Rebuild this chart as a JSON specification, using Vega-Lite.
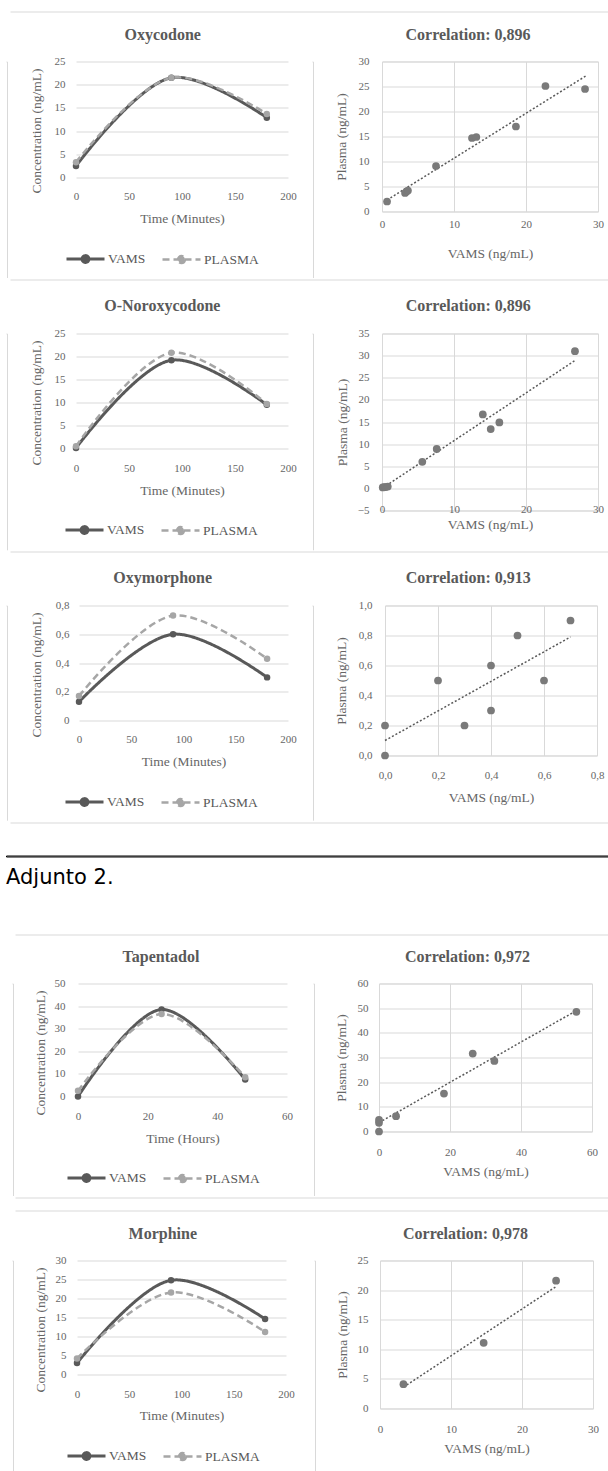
{
  "$schema": "https://vega.github.io/schema/vega-lite/v6.json",
  "background": "white",
  "padding": {"left": 5, "top": 10.5, "right": 0, "bottom": 0},
  "spacing": 0,
  "resolve": {"scale": {"color": "independent", "strokeDash": "independent", "strokeWidth": "independent"}, "legend": {"color": "independent"}},
  "config": {
    "font": "Liberation Serif",
    "view": {"stroke": null},
    "axis": {
      "ticks": false, "tickSize": 0, "domain": false, "labelFlush": false, "labelOverlap": false,
      "gridColor": "#d9d9d9", "gridWidth": 1,
      "labelFont": "Liberation Serif", "labelFontSize": 11, "labelColor": "#666666",
      "titleFont": "Liberation Serif", "titleFontSize": 13.5, "titleFontWeight": "normal", "titleColor": "#666666"
    },
    "title": {"font": "Liberation Serif", "fontSize": 16, "fontWeight": "bold", "color": "#595959", "offset": 13},
    "concat": {"spacing": 0}
  },
  "datasets": {
    "oxy_line": [
      {"t": 0, "v": 2.5, "s": "VAMS"}, {"t": 90, "v": 21.5, "s": "VAMS"}, {"t": 180, "v": 12.9, "s": "VAMS"},
      {"t": 0, "v": 3.3, "s": "PLASMA"}, {"t": 90, "v": 21.5, "s": "PLASMA"}, {"t": 180, "v": 13.7, "s": "PLASMA"}
    ],
    "nor_line": [
      {"t": 0, "v": 0.1, "s": "VAMS"}, {"t": 90, "v": 19.2, "s": "VAMS"}, {"t": 180, "v": 9.5, "s": "VAMS"},
      {"t": 0, "v": 0.5, "s": "PLASMA"}, {"t": 90, "v": 20.8, "s": "PLASMA"}, {"t": 180, "v": 9.7, "s": "PLASMA"}
    ],
    "oxm_line": [
      {"t": 0, "v": 0.13, "s": "VAMS"}, {"t": 90, "v": 0.6, "s": "VAMS"}, {"t": 180, "v": 0.3, "s": "VAMS"},
      {"t": 0, "v": 0.17, "s": "PLASMA"}, {"t": 90, "v": 0.73, "s": "PLASMA"}, {"t": 180, "v": 0.43, "s": "PLASMA"}
    ],
    "tap_line": [
      {"t": 0, "v": 0, "s": "VAMS"}, {"t": 24, "v": 38.5, "s": "VAMS"}, {"t": 48, "v": 7.5, "s": "VAMS"},
      {"t": 0, "v": 2.5, "s": "PLASMA"}, {"t": 24, "v": 36.5, "s": "PLASMA"}, {"t": 48, "v": 8.5, "s": "PLASMA"}
    ],
    "mor_line": [
      {"t": 0, "v": 3.0, "s": "VAMS"}, {"t": 90, "v": 24.8, "s": "VAMS"}, {"t": 180, "v": 14.6, "s": "VAMS"},
      {"t": 0, "v": 4.2, "s": "PLASMA"}, {"t": 90, "v": 21.6, "s": "PLASMA"}, {"t": 180, "v": 11.2, "s": "PLASMA"}
    ],
    "oxy_pts": [
      {"x": 0.7, "y": 2.0}, {"x": 3.2, "y": 3.7}, {"x": 3.4, "y": 4.0}, {"x": 3.6, "y": 4.2}, {"x": 7.5, "y": 9.1},
      {"x": 12.5, "y": 14.7}, {"x": 13.1, "y": 14.9}, {"x": 18.6, "y": 17.0}, {"x": 22.7, "y": 25.1}, {"x": 28.2, "y": 24.5}
    ],
    "oxy_trend": [{"x": 0.7, "y": 2.3}, {"x": 28.3, "y": 27.1}],
    "nor_pts": [
      {"x": 0.1, "y": 0.2}, {"x": 0.3, "y": 0.3}, {"x": 0.5, "y": 0.3}, {"x": 0.8, "y": 0.4}, {"x": 5.6, "y": 6.0},
      {"x": 7.6, "y": 8.9}, {"x": 14.0, "y": 16.7}, {"x": 15.1, "y": 13.4}, {"x": 16.3, "y": 14.9}, {"x": 26.8, "y": 31.0}
    ],
    "nor_trend": [{"x": 0.1, "y": 0.1}, {"x": 26.8, "y": 28.9}],
    "oxm_pts": [
      {"x": 0, "y": 0.2}, {"x": 0, "y": 0}, {"x": 0.2, "y": 0.5}, {"x": 0.3, "y": 0.2}, {"x": 0.4, "y": 0.6},
      {"x": 0.4, "y": 0.3}, {"x": 0.5, "y": 0.8}, {"x": 0.6, "y": 0.5}, {"x": 0.7, "y": 0.9}
    ],
    "oxm_trend": [{"x": 0, "y": 0.1}, {"x": 0.7, "y": 0.79}],
    "tap_pts": [
      {"x": 0, "y": 0}, {"x": 0, "y": 3.5}, {"x": 0, "y": 4.7}, {"x": 4.8, "y": 6.2}, {"x": 18.3, "y": 15.4},
      {"x": 26.4, "y": 31.6}, {"x": 32.5, "y": 28.6}, {"x": 55.6, "y": 48.5}
    ],
    "tap_trend": [{"x": 0, "y": 3.6}, {"x": 55.6, "y": 49.0}],
    "mor_pts": [{"x": 3.3, "y": 4.1}, {"x": 14.6, "y": 11.1}, {"x": 24.8, "y": 21.6}],
    "mor_trend": [{"x": 3.3, "y": 3.6}, {"x": 24.8, "y": 20.6}]
  },
  "vconcat": [
    {"spacing": 0, "hconcat": [
      {"width": 2.5, "height": 1, "data": {"values": [{}]}, "mark": {"type": "point", "filled": true, "size": 0, "opacity": 0}, "encoding": {}},
      {"width": 600, "height": 1, "data": {"values": [{}]}, "mark": {"type": "point", "filled": true, "size": 0, "opacity": 0}, "encoding": {}, "view": {"stroke": "#d9d9d9", "strokeDash": [600, 5000]}}
    ]},
    {
      "spacing": 0,
      "resolve": {"scale": {"color": "independent", "strokeDash": "independent", "strokeWidth": "independent"}, "legend": {"color": "independent"}},
      "hconcat": [
        {"width": 1, "height": 216, "data": {"values": [{}]}, "mark": {"type": "point", "filled": true, "size": 0, "opacity": 0}, "encoding": {}, "view": {"stroke": "#d9d9d9", "strokeDash": [217, 5000]}},
        {"width": 19.25, "height": 1, "data": {"values": [{}]}, "mark": {"type": "point", "filled": true, "size": 0, "opacity": 0}, "encoding": {}},
        {
          "width": 212, "height": 116,
          "title": {"text": ["", "Oxycodone"], "lineHeight": 12.5, "dx": -19.3},
          "data": {"name": "oxy_line"},
          "encoding": {
            "x": {"field": "t", "type": "quantitative", "scale": {"domain": [0, 200], "nice": false},
                  "axis": {"values": [0, 50, 100, 150, 200], "grid": false, "title": "Time (Minutes)", "labelPadding": 12.5, "titleY": 41, "titleBaseline": "middle"}},
            "y": {"field": "v", "type": "quantitative", "scale": {"domain": [0, 25], "nice": false},
                  "axis": {"values": [0, 5, 10, 15, 20, 25], "title": "Concentration (ng/mL)", "titleX": -40, "titleY": 69, "titleBaseline": "middle", "labelPadding": 11}},
            "color": {"field": "s", "type": "nominal", "scale": {"domain": ["VAMS", "PLASMA"], "range": ["#595959", "#a6a6a6"]},
                      "legend": {"orient": "none", "legendX": -11, "legendY": 177, "direction": "horizontal", "title": null,
                                 "symbolType": "M-1,0L1,0M-0.18,0A0.18,0.18,0,1,1,0.18,0A0.18,0.18,0,1,1,-0.18,0Z", "symbolSize": 1444,
                                 "labelFont": "Liberation Serif", "labelFontSize": 13.5, "labelColor": "#595959", "labelOffset": 2, "columnPadding": 11, "padding": 0,
                                 "encode": {"symbols": {"update": {
                                   "fill": {"signal": "datum.value === 'VAMS' ? '#595959' : '#a6a6a6'"},
                                   "stroke": {"signal": "datum.value === 'VAMS' ? '#595959' : '#a6a6a6'"},
                                   "strokeDash": {"signal": "datum.value === 'VAMS' ? [1, 0] : [5, 3]"},
                                   "strokeWidth": {"value": 2.6}, "opacity": {"value": 1}}}}}}
          },
          "layer": [
            {"mark": {"type": "line", "interpolate": "catmull-rom"},
             "encoding": {"strokeDash": {"field": "s", "type": "nominal", "scale": {"domain": ["VAMS", "PLASMA"], "range": [[1, 0], [7, 4]]}, "legend": null},
                          "strokeWidth": {"field": "s", "type": "nominal", "scale": {"domain": ["VAMS", "PLASMA"], "range": [3, 2.5]}, "legend": null}}},
            {"mark": {"type": "circle", "size": 42, "opacity": 1}}
          ]
        },
        {"width": 13.75, "height": 1, "data": {"values": [{}]}, "mark": {"type": "point", "filled": true, "size": 0, "opacity": 0}, "encoding": {}},
        {"width": 1, "height": 216, "data": {"values": [{}]}, "mark": {"type": "point", "filled": true, "size": 0, "opacity": 0}, "encoding": {}, "view": {"stroke": "#d9d9d9", "strokeDash": [217, 5000]}},
        {"width": 19.45, "height": 1, "data": {"values": [{}]}, "mark": {"type": "point", "filled": true, "size": 0, "opacity": 0}, "encoding": {}},
        {
          "width": 216, "height": 150,
          "title": {"text": ["", "Correlation: 0,896"], "lineHeight": 12.5, "dx": -22},
          "view": {"stroke": "#d9d9d9"},
          "encoding": {
            "x": {"field": "x", "type": "quantitative", "scale": {"domain": [0, 30], "nice": false},
                  "axis": {"values": [0, 10, 20, 30], "title": "VAMS (ng/mL)", "labelPadding": 6.5, "titleY": 42, "titleBaseline": "middle"}},
            "y": {"field": "y", "type": "quantitative", "scale": {"domain": [0, 30], "nice": false},
                  "axis": {"values": [0, 5, 10, 15, 20, 25, 30], "title": "Plasma (ng/mL)", "titleX": -40.3, "titleBaseline": "middle", "labelPadding": 13}}
          },
          "layer": [
            {"data": {"name": "oxy_trend"}, "mark": {"type": "line", "color": "#595959", "strokeDash": [2, 2], "strokeWidth": 1.5}},
            {"data": {"name": "oxy_pts"}, "mark": {"type": "circle", "size": 60, "color": "#7a7a7a", "opacity": 1}}
          ]
        }
      ]
    },
    {"spacing": 0, "hconcat": [
      {"width": 2.5, "height": 1, "data": {"values": [{}]}, "mark": {"type": "point", "filled": true, "size": 0, "opacity": 0}, "encoding": {}},
      {"width": 600, "height": 1, "data": {"values": [{}]}, "mark": {"type": "point", "filled": true, "size": 0, "opacity": 0}, "encoding": {}, "view": {"stroke": "#d9d9d9", "strokeDash": [600, 5000]}}
    ]},
    {
      "spacing": 0,
      "resolve": {"scale": {"color": "independent", "strokeDash": "independent", "strokeWidth": "independent"}, "legend": {"color": "independent"}},
      "hconcat": [
        {"width": 1, "height": 216.3, "data": {"values": [{}]}, "mark": {"type": "point", "filled": true, "size": 0, "opacity": 0}, "encoding": {}, "view": {"stroke": "#d9d9d9", "strokeDash": [217.3, 5000]}},
        {"width": 19.25, "height": 1, "data": {"values": [{}]}, "mark": {"type": "point", "filled": true, "size": 0, "opacity": 0}, "encoding": {}},
        {
          "width": 212, "height": 115,
          "title": {"text": ["", "O-Noroxycodone"], "lineHeight": 16.2, "dx": -19.7},
          "data": {"name": "nor_line"},
          "encoding": {
            "x": {"field": "t", "type": "quantitative", "scale": {"domain": [0, 200], "nice": false},
                  "axis": {"values": [0, 50, 100, 150, 200], "grid": false, "title": "Time (Minutes)", "labelPadding": 14, "titleY": 42, "titleBaseline": "middle"}},
            "y": {"field": "v", "type": "quantitative", "scale": {"domain": [0, 25], "nice": false},
                  "axis": {"values": [0, 5, 10, 15, 20, 25], "title": "Concentration (ng/mL)", "titleX": -40, "titleY": 69, "titleBaseline": "middle", "labelPadding": 11}},
            "color": {"field": "s", "type": "nominal", "scale": {"domain": ["VAMS", "PLASMA"], "range": ["#595959", "#a6a6a6"]},
                      "legend": {"orient": "none", "legendX": -12, "legendY": 176, "direction": "horizontal", "title": null,
                                 "symbolType": "M-1,0L1,0M-0.18,0A0.18,0.18,0,1,1,0.18,0A0.18,0.18,0,1,1,-0.18,0Z", "symbolSize": 1444,
                                 "labelFont": "Liberation Serif", "labelFontSize": 13.5, "labelColor": "#595959", "labelOffset": 2, "columnPadding": 11, "padding": 0,
                                 "encode": {"symbols": {"update": {
                                   "fill": {"signal": "datum.value === 'VAMS' ? '#595959' : '#a6a6a6'"},
                                   "stroke": {"signal": "datum.value === 'VAMS' ? '#595959' : '#a6a6a6'"},
                                   "strokeDash": {"signal": "datum.value === 'VAMS' ? [1, 0] : [5, 3]"},
                                   "strokeWidth": {"value": 2.6}, "opacity": {"value": 1}}}}}}
          },
          "layer": [
            {"mark": {"type": "line", "interpolate": "catmull-rom"},
             "encoding": {"strokeDash": {"field": "s", "type": "nominal", "scale": {"domain": ["VAMS", "PLASMA"], "range": [[1, 0], [7, 4]]}, "legend": null},
                          "strokeWidth": {"field": "s", "type": "nominal", "scale": {"domain": ["VAMS", "PLASMA"], "range": [3, 2.5]}, "legend": null}}},
            {"mark": {"type": "circle", "size": 42, "opacity": 1}}
          ]
        },
        {"width": 13.75, "height": 1, "data": {"values": [{}]}, "mark": {"type": "point", "filled": true, "size": 0, "opacity": 0}, "encoding": {}},
        {"width": 1, "height": 216.3, "data": {"values": [{}]}, "mark": {"type": "point", "filled": true, "size": 0, "opacity": 0}, "encoding": {}, "view": {"stroke": "#d9d9d9", "strokeDash": [217.3, 5000]}},
        {"width": 19.45, "height": 1, "data": {"values": [{}]}, "mark": {"type": "point", "filled": true, "size": 0, "opacity": 0}, "encoding": {}},
        {
          "width": 216, "height": 177,
          "title": {"text": ["", "Correlation: 0,896"], "lineHeight": 16.2, "dx": -21.8},
          "view": {"stroke": "#d9d9d9"},
          "encoding": {
            "x": {"field": "x", "type": "quantitative", "scale": {"domain": [0, 30], "nice": false},
                  "axis": {"values": [0, 10, 20, 30], "title": "VAMS (ng/mL)", "labelPadding": -6.6, "titleY": 14.2, "titleBaseline": "middle"}},
            "y": {"field": "y", "type": "quantitative", "scale": {"domain": [-5, 35], "nice": false},
                  "axis": {"values": [-5, 0, 5, 10, 15, 20, 25, 30, 35], "title": "Plasma (ng/mL)", "titleX": -40, "titleBaseline": "middle", "labelPadding": 13}}
          },
          "layer": [
            {"data": {"name": "nor_trend"}, "mark": {"type": "line", "color": "#595959", "strokeDash": [2, 2], "strokeWidth": 1.5}},
            {"data": {"name": "nor_pts"}, "mark": {"type": "circle", "size": 60, "color": "#7a7a7a", "opacity": 1}}
          ]
        }
      ]
    },
    {"spacing": 0, "hconcat": [
      {"width": 2.5, "height": 1, "data": {"values": [{}]}, "mark": {"type": "point", "filled": true, "size": 0, "opacity": 0}, "encoding": {}},
      {"width": 600, "height": 1, "data": {"values": [{}]}, "mark": {"type": "point", "filled": true, "size": 0, "opacity": 0}, "encoding": {}, "view": {"stroke": "#d9d9d9", "strokeDash": [600, 5000]}}
    ]},
    {
      "spacing": 0,
      "resolve": {"scale": {"color": "independent", "strokeDash": "independent", "strokeWidth": "independent"}, "legend": {"color": "independent"}},
      "hconcat": [
        {"width": 1, "height": 214.7, "data": {"values": [{}]}, "mark": {"type": "point", "filled": true, "size": 0, "opacity": 0}, "encoding": {}, "view": {"stroke": "#d9d9d9", "strokeDash": [215.7, 5000]}},
        {"width": 19.25, "height": 1, "data": {"values": [{}]}, "mark": {"type": "point", "filled": true, "size": 0, "opacity": 0}, "encoding": {}},
        {
          "width": 209, "height": 115,
          "title": {"text": ["", "Oxymorphone"], "lineHeight": 15.8, "dx": -20.8},
          "data": {"name": "oxm_line"},
          "encoding": {
            "x": {"field": "t", "type": "quantitative", "scale": {"domain": [0, 200], "nice": false},
                  "axis": {"values": [0, 50, 100, 150, 200], "grid": false, "title": "Time (Minutes)", "labelPadding": 12.5, "titleY": 41, "titleBaseline": "middle"}},
            "y": {"field": "v", "type": "quantitative", "scale": {"domain": [0, 0.8], "nice": false},
                  "axis": {"values": [0, 0.2, 0.4, 0.6, 0.8], "labelExpr": "datum.value == 0 ? '0' : replace(format(datum.value, '.1f'), '.', ',')", "title": "Concentration (ng/mL)", "titleX": -43, "titleY": 69, "titleBaseline": "middle", "labelPadding": 10}},
            "color": {"field": "s", "type": "nominal", "scale": {"domain": ["VAMS", "PLASMA"], "range": ["#595959", "#a6a6a6"]},
                      "legend": {"orient": "none", "legendX": -15, "legendY": 176, "direction": "horizontal", "title": null,
                                 "symbolType": "M-1,0L1,0M-0.18,0A0.18,0.18,0,1,1,0.18,0A0.18,0.18,0,1,1,-0.18,0Z", "symbolSize": 1444,
                                 "labelFont": "Liberation Serif", "labelFontSize": 13.5, "labelColor": "#595959", "labelOffset": 2, "columnPadding": 11, "padding": 0,
                                 "encode": {"symbols": {"update": {
                                   "fill": {"signal": "datum.value === 'VAMS' ? '#595959' : '#a6a6a6'"},
                                   "stroke": {"signal": "datum.value === 'VAMS' ? '#595959' : '#a6a6a6'"},
                                   "strokeDash": {"signal": "datum.value === 'VAMS' ? [1, 0] : [5, 3]"},
                                   "strokeWidth": {"value": 2.6}, "opacity": {"value": 1}}}}}}
          },
          "layer": [
            {"mark": {"type": "line", "interpolate": "catmull-rom"},
             "encoding": {"strokeDash": {"field": "s", "type": "nominal", "scale": {"domain": ["VAMS", "PLASMA"], "range": [[1, 0], [7, 4]]}, "legend": null},
                          "strokeWidth": {"field": "s", "type": "nominal", "scale": {"domain": ["VAMS", "PLASMA"], "range": [3, 2.5]}, "legend": null}}},
            {"mark": {"type": "circle", "size": 42, "opacity": 1}}
          ]
        },
        {"width": 13.75, "height": 1, "data": {"values": [{}]}, "mark": {"type": "point", "filled": true, "size": 0, "opacity": 0}, "encoding": {}},
        {"width": 1, "height": 214.7, "data": {"values": [{}]}, "mark": {"type": "point", "filled": true, "size": 0, "opacity": 0}, "encoding": {}, "view": {"stroke": "#d9d9d9", "strokeDash": [215.7, 5000]}},
        {"width": 19.45, "height": 1, "data": {"values": [{}]}, "mark": {"type": "point", "filled": true, "size": 0, "opacity": 0}, "encoding": {}},
        {
          "width": 212, "height": 150,
          "title": {"text": ["", "Correlation: 0,913"], "lineHeight": 15.8, "dx": -22.8},
          "view": {"stroke": "#d9d9d9"},
          "encoding": {
            "x": {"field": "x", "type": "quantitative", "scale": {"domain": [0, 0.8], "nice": false},
                  "axis": {"values": [0, 0.2, 0.4, 0.6, 0.8], "labelExpr": "replace(format(datum.value, '.1f'), '.', ',')", "title": "VAMS (ng/mL)", "labelPadding": 14, "titleY": 42.3, "titleBaseline": "middle"}},
            "y": {"field": "y", "type": "quantitative", "scale": {"domain": [0, 1], "nice": false},
                  "axis": {"values": [0, 0.2, 0.4, 0.6, 0.8, 1], "labelExpr": "replace(format(datum.value, '.1f'), '.', ',')", "title": "Plasma (ng/mL)", "titleX": -43.3, "titleBaseline": "middle", "labelPadding": 13}}
          },
          "layer": [
            {"data": {"name": "oxm_trend"}, "mark": {"type": "line", "color": "#595959", "strokeDash": [2, 2], "strokeWidth": 1.5}},
            {"data": {"name": "oxm_pts"}, "mark": {"type": "circle", "size": 60, "color": "#7a7a7a", "opacity": 1}}
          ]
        }
      ]
    },
    {"spacing": 0, "hconcat": [
      {"width": 2.5, "height": 1, "data": {"values": [{}]}, "mark": {"type": "point", "filled": true, "size": 0, "opacity": 0}, "encoding": {}},
      {"width": 600, "height": 1, "data": {"values": [{}]}, "mark": {"type": "point", "filled": true, "size": 0, "opacity": 0}, "encoding": {}, "view": {"stroke": "#d9d9d9", "strokeDash": [600, 5000]}}
    ]},
    {"width": 1, "height": 29.5, "data": {"values": [{}]}, "mark": {"type": "point", "filled": true, "size": 0, "opacity": 0}, "encoding": {}},
    {
      "width": 603, "height": 1,
      "data": {"values": [{}]},
      "mark": {"type": "point", "filled": true, "size": 0, "opacity": 0},
      "encoding": {},
      "view": {"stroke": "#000000", "strokeWidth": 1},
      "title": {"text": "Adjunto 2.", "orient": "bottom", "anchor": "start", "font": "DejaVu Sans", "fontSize": 21, "fontWeight": "normal", "color": "#000000", "offset": 10}
    },
    {"width": 1, "height": 44.5, "data": {"values": [{}]}, "mark": {"type": "point", "filled": true, "size": 0, "opacity": 0}, "encoding": {}},
    {"spacing": 0, "hconcat": [
      {"width": 7.5, "height": 1, "data": {"values": [{}]}, "mark": {"type": "point", "filled": true, "size": 0, "opacity": 0}, "encoding": {}},
      {"width": 595, "height": 1, "data": {"values": [{}]}, "mark": {"type": "point", "filled": true, "size": 0, "opacity": 0}, "encoding": {}, "view": {"stroke": "#d9d9d9", "strokeDash": [595, 5000]}}
    ]},
    {
      "spacing": 0,
      "resolve": {"scale": {"color": "independent", "strokeDash": "independent", "strokeWidth": "independent"}, "legend": {"color": "independent"}},
      "hconcat": [
        {"width": 5, "height": 1, "data": {"values": [{}]}, "mark": {"type": "point", "filled": true, "size": 0, "opacity": 0}, "encoding": {}},
        {"width": 1, "height": 212, "data": {"values": [{}]}, "mark": {"type": "point", "filled": true, "size": 0, "opacity": 0}, "encoding": {}, "view": {"stroke": "#d9d9d9", "strokeDash": [213, 5000]}},
        {"width": 19, "height": 1, "data": {"values": [{}]}, "mark": {"type": "point", "filled": true, "size": 0, "opacity": 0}, "encoding": {}},
        {
          "width": 209, "height": 113,
          "title": {"text": ["", "Tapentadol"], "lineHeight": 11.5, "dx": -21.5},
          "data": {"name": "tap_line"},
          "encoding": {
            "x": {"field": "t", "type": "quantitative", "scale": {"domain": [0, 60], "nice": false},
                  "axis": {"values": [0, 20, 40, 60], "grid": false, "title": "Time (Hours)", "labelPadding": 14, "titleY": 42, "titleBaseline": "middle"}},
            "y": {"field": "v", "type": "quantitative", "scale": {"domain": [0, 50], "nice": false},
                  "axis": {"values": [0, 10, 20, 30, 40, 50], "title": "Concentration (ng/mL)", "titleX": -37.3, "titleY": 69, "titleBaseline": "middle", "labelPadding": 13}},
            "color": {"field": "s", "type": "nominal", "scale": {"domain": ["VAMS", "PLASMA"], "range": ["#595959", "#a6a6a6"]},
                      "legend": {"orient": "none", "legendX": -12, "legendY": 174, "direction": "horizontal", "title": null,
                                 "symbolType": "M-1,0L1,0M-0.18,0A0.18,0.18,0,1,1,0.18,0A0.18,0.18,0,1,1,-0.18,0Z", "symbolSize": 1444,
                                 "labelFont": "Liberation Serif", "labelFontSize": 13.5, "labelColor": "#595959", "labelOffset": 2, "columnPadding": 11, "padding": 0,
                                 "encode": {"symbols": {"update": {
                                   "fill": {"signal": "datum.value === 'VAMS' ? '#595959' : '#a6a6a6'"},
                                   "stroke": {"signal": "datum.value === 'VAMS' ? '#595959' : '#a6a6a6'"},
                                   "strokeDash": {"signal": "datum.value === 'VAMS' ? [1, 0] : [5, 3]"},
                                   "strokeWidth": {"value": 2.6}, "opacity": {"value": 1}}}}}}
          },
          "layer": [
            {"mark": {"type": "line", "interpolate": "catmull-rom"},
             "encoding": {"strokeDash": {"field": "s", "type": "nominal", "scale": {"domain": ["VAMS", "PLASMA"], "range": [[1, 0], [7, 4]]}, "legend": null},
                          "strokeWidth": {"field": "s", "type": "nominal", "scale": {"domain": ["VAMS", "PLASMA"], "range": [3, 2.5]}, "legend": null}}},
            {"mark": {"type": "circle", "size": 42, "opacity": 1}}
          ]
        },
        {"width": 19, "height": 1, "data": {"values": [{}]}, "mark": {"type": "point", "filled": true, "size": 0, "opacity": 0}, "encoding": {}},
        {"width": 1, "height": 212, "data": {"values": [{}]}, "mark": {"type": "point", "filled": true, "size": 0, "opacity": 0}, "encoding": {}, "view": {"stroke": "#d9d9d9", "strokeDash": [213, 5000]}},
        {"width": 18.45, "height": 1, "data": {"values": [{}]}, "mark": {"type": "point", "filled": true, "size": 0, "opacity": 0}, "encoding": {}},
        {
          "width": 213, "height": 148,
          "title": {"text": ["", "Correlation: 0,972"], "lineHeight": 11.5, "dx": -18},
          "view": {"stroke": "#d9d9d9"},
          "encoding": {
            "x": {"field": "x", "type": "quantitative", "scale": {"domain": [0, 60], "nice": false},
                  "axis": {"values": [0, 20, 40, 60], "title": "VAMS (ng/mL)", "labelPadding": 15, "titleY": 40, "titleBaseline": "middle"}},
            "y": {"field": "y", "type": "quantitative", "scale": {"domain": [0, 60], "nice": false},
                  "axis": {"values": [0, 10, 20, 30, 40, 50, 60], "title": "Plasma (ng/mL)", "titleX": -37.3, "titleBaseline": "middle", "labelPadding": 11}}
          },
          "layer": [
            {"data": {"name": "tap_trend"}, "mark": {"type": "line", "color": "#595959", "strokeDash": [2, 2], "strokeWidth": 1.5}},
            {"data": {"name": "tap_pts"}, "mark": {"type": "circle", "size": 60, "color": "#7a7a7a", "opacity": 1}}
          ]
        }
      ]
    },
    {"spacing": 0, "hconcat": [
      {"width": 7.5, "height": 1, "data": {"values": [{}]}, "mark": {"type": "point", "filled": true, "size": 0, "opacity": 0}, "encoding": {}},
      {"width": 595, "height": 1, "data": {"values": [{}]}, "mark": {"type": "point", "filled": true, "size": 0, "opacity": 0}, "encoding": {}, "view": {"stroke": "#d9d9d9", "strokeDash": [595, 5000]}}
    ]},
    {"width": 1, "height": 10, "data": {"values": [{}]}, "mark": {"type": "point", "filled": true, "size": 0, "opacity": 0}, "encoding": {}},
    {"spacing": 0, "hconcat": [
      {"width": 7.5, "height": 1, "data": {"values": [{}]}, "mark": {"type": "point", "filled": true, "size": 0, "opacity": 0}, "encoding": {}},
      {"width": 595, "height": 1, "data": {"values": [{}]}, "mark": {"type": "point", "filled": true, "size": 0, "opacity": 0}, "encoding": {}, "view": {"stroke": "#d9d9d9", "strokeDash": [595, 5000]}}
    ]},
    {
      "spacing": 0,
      "resolve": {"scale": {"color": "independent", "strokeDash": "independent", "strokeWidth": "independent"}, "legend": {"color": "independent"}},
      "hconcat": [
        {"width": 5, "height": 1, "data": {"values": [{}]}, "mark": {"type": "point", "filled": true, "size": 0, "opacity": 0}, "encoding": {}},
        {"width": 1, "height": 212, "data": {"values": [{}]}, "mark": {"type": "point", "filled": true, "size": 0, "opacity": 0}, "encoding": {}, "view": {"stroke": "#d9d9d9", "strokeDash": [213, 5000]}},
        {"width": 19, "height": 1, "data": {"values": [{}]}, "mark": {"type": "point", "filled": true, "size": 0, "opacity": 0}, "encoding": {}},
        {
          "width": 209, "height": 114,
          "title": {"text": ["", "Morphine"], "lineHeight": 12.5, "dx": -18.7},
          "data": {"name": "mor_line"},
          "encoding": {
            "x": {"field": "t", "type": "quantitative", "scale": {"domain": [0, 200], "nice": false},
                  "axis": {"values": [0, 50, 100, 150, 200], "grid": false, "title": "Time (Minutes)", "labelPadding": 13.5, "titleY": 41, "titleBaseline": "middle"}},
            "y": {"field": "v", "type": "quantitative", "scale": {"domain": [0, 30], "nice": false},
                  "axis": {"values": [0, 5, 10, 15, 20, 25, 30], "title": "Concentration (ng/mL)", "titleX": -36.3, "titleY": 69, "titleBaseline": "middle", "labelPadding": 11}},
            "color": {"field": "s", "type": "nominal", "scale": {"domain": ["VAMS", "PLASMA"], "range": ["#595959", "#a6a6a6"]},
                      "legend": {"orient": "none", "legendX": -11, "legendY": 175, "direction": "horizontal", "title": null,
                                 "symbolType": "M-1,0L1,0M-0.18,0A0.18,0.18,0,1,1,0.18,0A0.18,0.18,0,1,1,-0.18,0Z", "symbolSize": 1444,
                                 "labelFont": "Liberation Serif", "labelFontSize": 13.5, "labelColor": "#595959", "labelOffset": 2, "columnPadding": 11, "padding": 0,
                                 "encode": {"symbols": {"update": {
                                   "fill": {"signal": "datum.value === 'VAMS' ? '#595959' : '#a6a6a6'"},
                                   "stroke": {"signal": "datum.value === 'VAMS' ? '#595959' : '#a6a6a6'"},
                                   "strokeDash": {"signal": "datum.value === 'VAMS' ? [1, 0] : [5, 3]"},
                                   "strokeWidth": {"value": 2.6}, "opacity": {"value": 1}}}}}}
          },
          "layer": [
            {"mark": {"type": "line", "interpolate": "catmull-rom"},
             "encoding": {"strokeDash": {"field": "s", "type": "nominal", "scale": {"domain": ["VAMS", "PLASMA"], "range": [[1, 0], [7, 4]]}, "legend": null},
                          "strokeWidth": {"field": "s", "type": "nominal", "scale": {"domain": ["VAMS", "PLASMA"], "range": [3, 2.5]}, "legend": null}}},
            {"mark": {"type": "circle", "size": 42, "opacity": 1}}
          ]
        },
        {"width": 17.25, "height": 1, "data": {"values": [{}]}, "mark": {"type": "point", "filled": true, "size": 0, "opacity": 0}, "encoding": {}},
        {"width": 1, "height": 212, "data": {"values": [{}]}, "mark": {"type": "point", "filled": true, "size": 0, "opacity": 0}, "encoding": {}, "view": {"stroke": "#d9d9d9", "strokeDash": [213, 5000]}},
        {"width": 18.45, "height": 1, "data": {"values": [{}]}, "mark": {"type": "point", "filled": true, "size": 0, "opacity": 0}, "encoding": {}},
        {
          "width": 213, "height": 148,
          "title": {"text": ["", "Correlation: 0,978"], "lineHeight": 12.5, "dx": -21},
          "view": {"stroke": "#d9d9d9"},
          "encoding": {
            "x": {"field": "x", "type": "quantitative", "scale": {"domain": [0, 30], "nice": false},
                  "axis": {"values": [0, 10, 20, 30], "title": "VAMS (ng/mL)", "labelPadding": 15, "titleY": 39.7, "titleBaseline": "middle"}},
            "y": {"field": "y", "type": "quantitative", "scale": {"domain": [0, 25], "nice": false},
                  "axis": {"values": [0, 5, 10, 15, 20, 25], "title": "Plasma (ng/mL)", "titleX": -37.3, "titleBaseline": "middle", "labelPadding": 12}}
          },
          "layer": [
            {"data": {"name": "mor_trend"}, "mark": {"type": "line", "color": "#595959", "strokeDash": [2, 2], "strokeWidth": 1.5}},
            {"data": {"name": "mor_pts"}, "mark": {"type": "circle", "size": 60, "color": "#7a7a7a", "opacity": 1}}
          ]
        }
      ]
    }
  ]
}
